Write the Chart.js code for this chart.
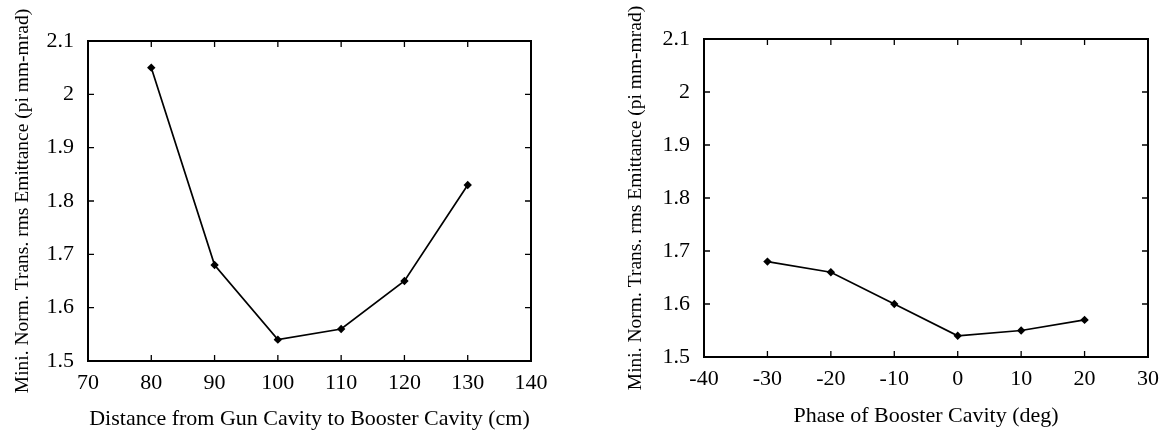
<!DOCTYPE html>
<html>
<head>
<meta charset="utf-8">
<script src="https://cdn.jsdelivr.net/npm/chart.js@4/dist/chart.umd.min.js"></script>
<style>
  body { margin: 0; background: #fff; }
  .wrap { position: absolute; top: 0; width: 584px; height: 430px; }
</style>
</head>
<body>
<div class="wrap" style="left:0"><canvas id="left" width="584" height="430"></canvas></div>
<div class="wrap" style="left:584px"><canvas id="right" width="584" height="430"></canvas></div>
<script>
// left panel: distance gun -> booster
const distX = [80, 90, 100, 110, 120, 130];
const distY = [2.05, 1.68, 1.54, 1.56, 1.65, 1.83];
// right panel: booster phase
const phaseX = [-30, -20, -10, 0, 10, 20];
const phaseY = [1.68, 1.66, 1.60, 1.54, 1.55, 1.57];

const yTitle = 'Mini. Norm. Trans. rms Emittance (pi mm-mrad)';
const serif = 'Liberation Serif';

// box frame + inward ticks on all four sides
const frameTicks = {
  id: 'frameTicks',
  afterDraw(chart) {
    const ctx = chart.ctx;
    const a = chart.chartArea;
    const xs = chart.scales.x, ys = chart.scales.y;
    ctx.save();
    ctx.strokeStyle = '#000';
    ctx.lineWidth = 1.3;
    for (const t of xs.ticks) {
      const px = xs.getPixelForValue(t.value);
      ctx.beginPath();
      ctx.moveTo(px, a.bottom); ctx.lineTo(px, a.bottom - 6);
      ctx.moveTo(px, a.top); ctx.lineTo(px, a.top + 6);
      ctx.stroke();
    }
    for (const t of ys.ticks) {
      const py = ys.getPixelForValue(t.value);
      ctx.beginPath();
      ctx.moveTo(a.left, py); ctx.lineTo(a.left + 6, py);
      ctx.moveTo(a.right, py); ctx.lineTo(a.right - 6, py);
      ctx.stroke();
    }
    ctx.lineWidth = 2;
    ctx.strokeRect(a.left, a.top, a.right - a.left, a.bottom - a.top);
    ctx.restore();
  }
};

const makeChart = (id, xv, yv, xMin, xMax, xTitle, geo) => {
  const pts = xv.map((x, i) => ({x: x, y: yv[i]}));
  return new Chart(document.getElementById(id), {
    type: 'line',
    data: {
      datasets: [{
        data: pts,
        borderColor: '#000',
        backgroundColor: '#000',
        borderWidth: 1.7,
        pointRadius: 3,
        pointStyle: 'rectRot',
        tension: 0
      }]
    },
    options: {
      responsive: false,
      animation: false,
      layout: { padding: { left: 0, right: geo.padRight, top: geo.padTop, bottom: 0 } },
      plugins: { legend: { display: false }, tooltip: { enabled: false } },
      scales: {
        x: {
          type: 'linear',
          min: xMin, max: xMax,
          grid: { display: false },
          border: { display: false },
          afterFit: (s) => { s.height = geo.xAxisH; },
          ticks: {
            stepSize: 10,
            color: '#000',
            padding: 1,
            font: { family: serif, size: 22 },
            callback: (v) => String(v)
          },
          title: {
            display: true,
            text: xTitle,
            color: '#000',
            font: { family: serif, size: 22, lineHeight: 1 },
            padding: { top: 0, bottom: geo.xTitlePad }
          }
        },
        y: {
          min: 1.5, max: 2.1,
          grid: { display: false },
          border: { display: false },
          afterFit: (s) => { s.width = geo.yAxisW; },
          ticks: {
            stepSize: 0.1,
            color: '#000',
            padding: 6,
            font: { family: serif, size: 22 },
            callback: (v) => String(Math.round(v * 10) / 10)
          },
          title: {
            display: true,
            text: yTitle,
            color: '#000',
            font: { family: serif, size: 19.5, lineHeight: 1.2 },
            padding: { top: geo.yTitlePad, bottom: 0 }
          }
        }
      }
    },
    plugins: [frameTicks]
  });
};

makeChart('left', distX, distY, 70, 140,
  'Distance from Gun Cavity to Booster Cavity (cm)',
  { padRight: 53, padTop: 41, xAxisH: 69, yAxisW: 88, xTitlePad: 0, yTitlePad: 11 });
makeChart('right', phaseX, phaseY, -40, 30,
  'Phase of Booster Cavity (deg)',
  { padRight: 20, padTop: 39, xAxisH: 73, yAxisW: 120, xTitlePad: 3, yTitlePad: 40 });
</script>
</body>
</html>
